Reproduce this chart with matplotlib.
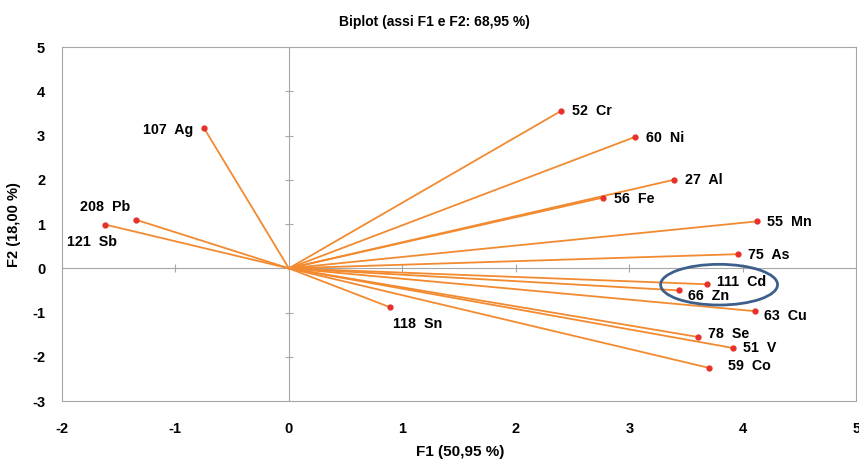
import matplotlib.pyplot as plt
from matplotlib.patches import Ellipse

# variable coordinates on F1 / F2
names = ["107  Ag", "208  Pb", "121  Sb", "52  Cr", "60  Ni", "27  Al", "56  Fe",
         "55  Mn", "75  As", "111  Cd", "66  Zn", "63  Cu", "78  Se", "51  V",
         "59  Co", "118  Sn"]
f1 = [-0.75, -1.35, -1.62, 2.40, 3.05, 3.39, 2.77, 4.12, 3.96, 3.68, 3.44, 4.11, 3.60, 3.91, 3.70, 0.89]
f2 = [3.18, 1.10, 0.99, 3.56, 2.97, 2.00, 1.60, 1.06, 0.32, -0.36, -0.50, -0.97, -1.55, -1.80, -2.25, -0.88]

# label offsets in pixels (dx, dy, ha)
offs = [(-10, -2, 'right'), (-5, 13, 'right'), (12, -17, 'right'), (11, 0, 'left'),
        (11, -1, 'left'), (11, 0, 'left'), (11, -1, 'left'), (10, -1, 'left'),
        (10, -1, 'left'), (10, 2, 'left'), (9, -6, 'left'), (9, -5, 'left'),
        (10, 3, 'left'), (10, 0, 'left'), (19, 2, 'left'), (3, -17, 'left')]

plt.rcParams['font.family'] = ['Liberation Sans', 'DejaVu Sans']
plt.rcParams['axes.unicode_minus'] = False

fig = plt.figure(figsize=(8.59, 4.62), dpi=100)
ax = fig.add_axes([0.072, 0.132, 0.925, 0.766])

ax.axhline(0, color='#a6a6a6', lw=0.8, zorder=1)
ax.axvline(0, color='#a6a6a6', lw=0.8, zorder=1)
# small tick marks on the zero axes
ax.plot([-2, -1, 1, 2, 3, 4], [0] * 6, ls='none', marker='|', ms=6, mew=0.8, color='#a6a6a6', zorder=1)
ax.plot([0] * 8, [-3, -2, -1, 1, 2, 3, 4, 5], ls='none', marker='_', ms=6, mew=0.8, color='#a6a6a6', zorder=1)

for x, y, n, o in zip(f1, f2, names, offs):
    ax.plot([0, x], [0, y], color='#f28a30', lw=1.3, zorder=2)
    ax.plot(x, y, 'o', color='#e8302a', ms=3.5, zorder=3)
    ax.annotate(n, (x, y), xytext=(o[0] * 0.72, o[1] * 0.72), textcoords='offset points',
                ha=o[2], va='center', fontsize=10.3, fontweight='bold')

ax.add_patch(Ellipse((3.79, -0.37), 1.03, 0.92, fill=False, ec='#3d5f8c', lw=2, zorder=4))

ax.set_xlim(-2, 5)
ax.set_ylim(-3, 5)
ax.set_xticks(range(-2, 6))
ax.set_yticks(range(-3, 6))
ax.tick_params(length=0, pad=15)
ax.tick_params(axis='y', pad=12)
for lab in ax.get_xticklabels() + ax.get_yticklabels():
    lab.set_fontweight('bold')
    lab.set_fontsize(10.5)
for s in ax.spines.values():
    s.set_color('#a6a6a6')
    s.set_linewidth(0.8)

fig.text(434 / 859, 1 - 22 / 462, "Biplot (assi F1 e F2: 68,95 %)", ha='center', va='center',
         fontsize=10, fontweight='bold')
fig.text(460 / 859, 1 - 452 / 462, "F1 (50,95 %)", ha='center', va='center',
         fontsize=11, fontweight='bold')
fig.text(14 / 859, 1 - 225 / 462, "F2 (18,00 %)", ha='center', va='center', rotation=90,
         fontsize=10.5, fontweight='bold')

fig.savefig('out.png', dpi=100)
